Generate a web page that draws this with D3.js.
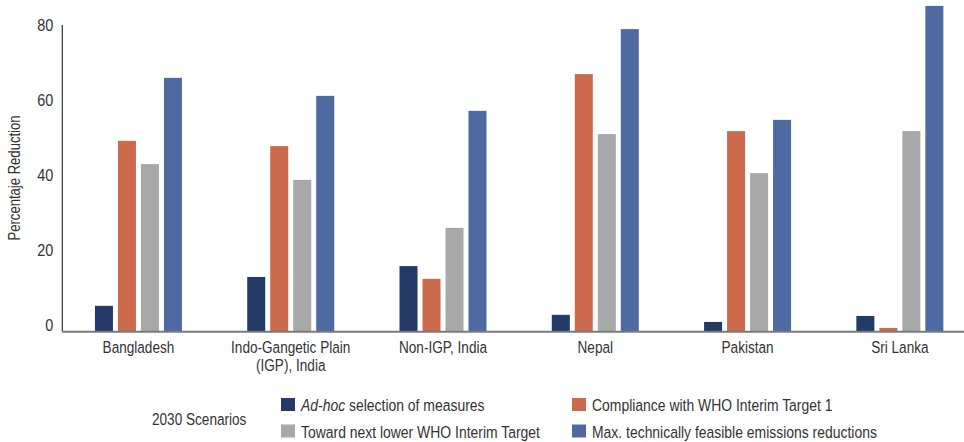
<!DOCTYPE html>
<html>
<head>
<meta charset="utf-8">
<script src="https://cdn.jsdelivr.net/npm/d3@7"></script>
<style>
  html, body { margin: 0; padding: 0; background: #fff; }
  svg { display: block; }
  text { font-family: "Liberation Sans", Arial, sans-serif; fill: #333; }
</style>
</head>
<body>
<svg id="chart" width="964" height="442"></svg>
<script>
// ---- data ----
const categories = ["Bangladesh", "Indo-Gangetic Plain\n(IGP), India", "Non-IGP, India", "Nepal", "Pakistan", "Sri Lanka"];
const seriesNames = [
  "Ad-hoc selection of measures",
  "Compliance with WHO Interim Target 1",
  "Toward next lower WHO Interim Target",
  "Max. technically feasible emissions reductions"
];
const adHoc      = [5.1, 12.8, 15.7, 2.7, 0.8, 2.4];
const whoIT1     = [49.1, 47.7, 12.3, 66.9, 51.7, -0.8];
const nextLower  = [42.9, 38.7, 25.9, 50.9, 40.5, 51.7];
const maxFeasible= [65.9, 61.1, 57.1, 78.9, 54.7, 85.1];
const yTicks = [0, 20, 40, 60, 80];
const colors = ["#243a66", "#cb6a4c", "#a8a8a8", "#4e6aa0"];
const yLabel = "Percentaje Reduction";
const legendTitle = "2030 Scenarios";

const seriesValues = [adHoc, whoIT1, nextLower, maxFeasible];

(function draw() {
const svg = d3.select("#chart");
const mLeft = 62.3, mRight = 976, mTop = 25, mBottom = 331.7;
const fs = 17;

// condensed text helper (horizontal compression to mimic a narrow face)
function ctext(parent, x, y, sx, anchor) {
  return parent.append("text")
    .attr("transform", `translate(${x},${y}) scale(${sx},1)`)
    .attr("text-anchor", anchor || "start")
    .attr("font-size", fs);
}

const x0 = d3.scaleBand().domain(categories).range([mLeft, mRight]).padding(0);
const groupW = 87;
const x1 = d3.scaleBand().domain(d3.range(4))
  .range([(x0.bandwidth() - groupW) / 2, (x0.bandwidth() + groupW) / 2])
  .paddingInner(0.217).paddingOuter(0);
const y = d3.scaleLinear().domain([-1.8, 80]).range([mBottom, mTop]);

// bars
const g = svg.append("g");
categories.forEach((c, i) => {
  seriesValues.forEach((vals, s) => {
    const v = Math.max(vals[i], y.domain()[0]);
    g.append("rect")
      .attr("x", x0(c) + x1(s))
      .attr("width", x1.bandwidth())
      .attr("y", y(v))
      .attr("height", y.range()[0] - y(v))
      .attr("fill", colors[s]);
  });
});

// y axis
const tsx = 0.85;
const yAxis = d3.axisLeft(y).tickValues(yTicks).tickSize(0).tickPadding(0);
const ya = svg.append("g").attr("transform", `translate(${mLeft},0)`).call(yAxis);
ya.select(".domain").attr("stroke", "#333").attr("stroke-width", 1.2).attr("d", `M0,${mTop}V${mBottom}`);
ya.selectAll(".tick text")
  .attr("x", null).attr("dy", "0.35em")
  .attr("transform", `translate(-9,0) scale(${tsx},1)`)
  .attr("font-size", fs).attr("fill", "#333")
  .style("font-family", '"Liberation Sans", Arial, sans-serif');

// x baseline
svg.append("line").attr("x1", mLeft).attr("x2", 964).attr("y1", mBottom).attr("y2", mBottom)
  .attr("stroke", "#7a7a7a").attr("stroke-width", 2);

// x labels
categories.forEach(c => {
  const lines = c.split("\n");
  const cx = x0(c) + x0.bandwidth() / 2;
  const t = ctext(svg, cx, 353, 0.8, "middle");
  lines.forEach((ln, k) => {
    t.append("tspan").attr("x", 0).attr("dy", k === 0 ? 0 : 18).text(ln);
  });
});

// y label
svg.append("text")
  .attr("transform", "translate(20,178) rotate(-90) scale(0.77,1)")
  .attr("text-anchor", "middle")
  .attr("font-size", fs)
  .text(yLabel);

// legend
ctext(svg, 152, 425, 0.8).text(legendTitle);
const legPos = [[281, 405], [572, 405], [281, 431.5], [572, 431.5]];
seriesNames.forEach((name, s) => {
  const [lx, ly] = legPos[s];
  svg.append("rect").attr("x", lx).attr("y", ly - 7).attr("width", 14).attr("height", 13).attr("fill", colors[s]);
  const t = ctext(svg, lx + 20, ly + 6, 0.82);
  if (s === 0) {
    t.append("tspan").attr("font-style", "italic").text("Ad-hoc");
    t.append("tspan").text(" selection of measures");
  } else {
    t.text(name);
  }
});
})();
</script>
</body>
</html>
